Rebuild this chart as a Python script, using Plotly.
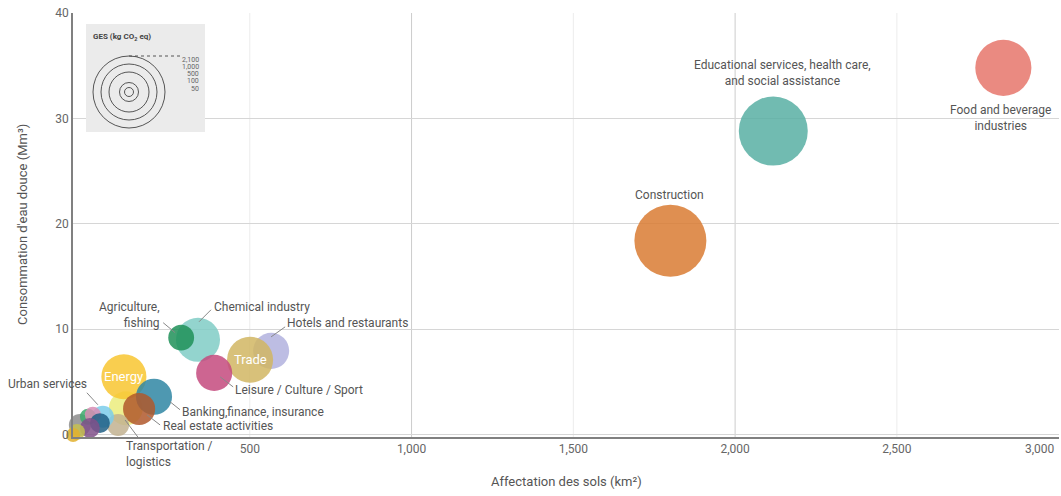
import plotly.graph_objects as go

# Données (ordre de tracé : les premiers passent dessous)
sectors = [
    "Construction",
    "Educational services, health care, and social assistance",
    "Food and beverage industries",
    "Hotels and restaurants",
    "Trade",
    "Chemical industry",
    "Agriculture, fishing",
    "Leisure / Culture / Sport",
    "Autre secteur A",
    "Energy",
    "Banking,finance, insurance",
    "Real estate activities",
    "Transportation / logistics",
    "Urban services",
    "Autre secteur B",
    "Autre secteur C",
    "Autre secteur D",
    "Autre secteur E",
    "Autre secteur F",
    "Autre secteur G",
    "Autre secteur H",
    "Autre secteur I",
]
land_use = [1800, 2118, 2829, 566, 501, 340, 288, 390, 117, 111, 204, 158,
            93, 46, -25, 0, 15, 37, 6, -34, -46, -31]          # km²
water = [18.4, 28.8, 34.8, 7.95, 7.1, 9.0, 9.2, 5.86, 2.5, 5.5, 3.6, 2.44,
         0.92, 1.7, 0.92, 1.7, 1.9, 1.1, 0.64, 0.26, -0.03, -0.5]  # Mm³
ghg = [1710, 1570, 1040, 430, 700, 640, 220, 430, 380, 670, 430, 340,
       160, 160, 160, 85, 85, 130, 130, 85, 65, 20]         # kg CO2 eq

colors = ["#D97B33", "#58AFA3", "#E6766B", "#B2B2DE", "#D1B663", "#80CCC6",
          "#1E9158", "#C44A7E", "#EBEC7C", "#F8C530", "#2F86A3", "#B0582B",
          "#C2B291", "#7BCDEA", "#8D8D8D", "#3CAA6C", "#D88DB5", "#205F85",
          "#80508A", "#C5C050", "#E2B02E", "#E05555"]

x_ticks = [500, 1000, 1500, 2000, 2500]
x_tick_text = ["500", "1,000", "1,500", "2,000", "2,500"]
x_last_tick = 3000

legend_values = ["2,100", "1,000", "500", "100", "50"]
legend_radius = [36, 28, 20, 9.5, 4.5]

W, H = 1061, 496
L, R, T, B = 73, 2, 13, 59
FONT = "Roboto"
TXT = "#555555"


def pxx(px):
    return (px - L) / (W - L - R)


def pxy(py):
    return (H - B - py) / (H - T - B)


fig = go.Figure()

fig.add_trace(go.Scatter(
    x=land_use, y=water, mode="markers",
    text=sectors, customdata=ghg,
    hovertemplate="%{text}<br>%{x:,} km²<br>%{y} Mm³<br>%{customdata:,} kg CO2 eq<extra></extra>",
    marker=dict(size=ghg, sizemode="area", sizeref=0.66, color=colors,
                opacity=0.85, line=dict(width=0)),
    cliponaxis=False,
))

# étiquettes : index -> (texte, dx, dy, ancrage, trait de rappel)
labels = {
    0: ("Construction", -1, 46, "center", None),
    1: ("Educational services, health care,<br>and social assistance", 9, 58, "center", None),
    2: ("Food and beverage<br>industries", -3, -50, "center", None),
    3: ("Hotels and restaurants", 14, 28, "left", (14, 24, 0, 14)),
    4: ("Trade", 0, 0, "center", None),
    5: ("Chemical industry", 14, 33, "left", (1, 18, 13, 30)),
    6: ("Agriculture,<br>fishing", -19, 23, "right", (-18, 15, -6, 5)),
    7: ("Leisure / Culture / Sport", 19, -17, "left", (6, -4, 19, -14)),
    9: ("Energy", 0, 0, "center", None),
    10: ("Banking,finance, insurance", 26, -15, "left", (16, -5, 26, -13)),
    11: ("Real estate activities", 22, -17, "left", (8, -6, 21, -16)),
    12: ("Transportation /<br>logistics", 6, -29, "left", (7, 5, 22, -15)),
    13: ("Urban services", -14, 33, "right", (-5, 12, -16, 24)),
}
inside = {4, 9}

shapes = []
annotations = []

# grille verticale (majeure tous les 1000, mineure à 500)
for v in [500, 1500, 2500]:
    shapes.append(dict(type="line", xref="x", yref="paper", x0=v, x1=v, y0=0, y1=1,
                       layer="below", line=dict(color="#ececec", width=1)))
for v in [1000, 2000]:
    shapes.append(dict(type="line", xref="x", yref="paper", x0=v, x1=v, y0=0, y1=1,
                       layer="below", line=dict(color="#cccccc", width=1)))

for i, (txt, dx, dy, anchor, leader) in labels.items():
    annotations.append(dict(x=land_use[i], y=water[i], xref="x", yref="y",
                            text=txt, showarrow=False, xshift=dx, yshift=dy,
                            xanchor=anchor, yanchor="middle", align=anchor,
                            font=dict(family=FONT, size=13 if i in inside else 12,
                                      color="white" if i in inside else TXT)))
    if leader:
        shapes.append(dict(type="line", xref="x", yref="y",
                           xsizemode="pixel", ysizemode="pixel",
                           xanchor=land_use[i], yanchor=water[i],
                           x0=leader[0], y0=leader[1], x1=leader[2], y1=leader[3],
                           line=dict(color="#888888", width=1)))

# dernier libellé de l'axe x, calé à droite pour rester dans la page
annotations.append(dict(x=x_last_tick, xref="x", y=pxy(449), yref="paper",
                        text=f"{x_last_tick:,}", showarrow=False, xanchor="right",
                        yanchor="middle", xshift=-2,
                        font=dict(family=FONT, size=12, color="#666666")))

# légende des tailles
shapes.append(dict(type="rect", xref="paper", yref="paper",
                   x0=pxx(86), x1=pxx(205), y0=pxy(132), y1=pxy(24),
                   fillcolor="#ebebeb", line=dict(width=0), layer="above"))
cx, cy = 129, 92
for r in legend_radius:
    shapes.append(dict(type="circle", xref="paper", yref="paper",
                       xsizemode="pixel", ysizemode="pixel",
                       xanchor=pxx(cx), yanchor=pxy(cy),
                       x0=-r, x1=r, y0=-r, y1=r,
                       line=dict(color="#444444", width=0.9), layer="above"))
shapes.append(dict(type="line", xref="paper", yref="paper",
                   x0=pxx(cx), x1=pxx(180), y0=pxy(cy - legend_radius[0]), y1=pxy(cy - legend_radius[0]),
                   line=dict(color="#444444", width=0.9, dash="dot"), layer="above"))
annotations.append(dict(xref="paper", yref="paper", x=pxx(91), y=pxy(37),
                        text="<b>GES (kg CO<sub>2</sub> eq)</b>", showarrow=False,
                        xanchor="left", yanchor="middle",
                        font=dict(family=FONT, size=8, color="#444444")))
for lab, ly in zip(legend_values, [60, 67, 74, 81, 89]):
    annotations.append(dict(xref="paper", yref="paper", x=pxx(201), y=pxy(ly),
                            text=lab, showarrow=False, xanchor="right", yanchor="middle",
                            font=dict(family=FONT, size=7, color="#666666")))

# titres des axes
annotations.append(dict(xref="paper", yref="paper", x=pxx(566), y=pxy(481),
                        text="Affectation des sols (km²)", showarrow=False,
                        xanchor="center", yanchor="middle",
                        font=dict(family=FONT, size=13, color=TXT)))
annotations.append(dict(xref="paper", yref="paper", x=pxx(22), y=pxy(225),
                        text="Consommation d'eau douce (Mm³)", showarrow=False,
                        textangle=-90, xanchor="center", yanchor="middle",
                        font=dict(family=FONT, size=13, color=TXT)))

fig.update_layout(
    width=W, height=H,
    margin=dict(l=L, r=R, t=T, b=B, autoexpand=False),
    plot_bgcolor="white", paper_bgcolor="white",
    showlegend=False,
    font=dict(family=FONT, size=12, color=TXT),
    shapes=shapes, annotations=annotations,
    xaxis=dict(range=[-46.3, 3001], tickvals=x_ticks, ticktext=x_tick_text,
               showgrid=False, zeroline=False, showline=True, automargin=False,
               linecolor="#808080", linewidth=1.5, ticks="",
               tickfont=dict(family=FONT, size=12, color="#666666")),
    yaxis=dict(range=[-0.22, 40], tickvals=[0, 10, 20, 30, 40],
               showgrid=True, gridcolor="#d6d6d6", zeroline=False, showline=True,
               automargin=False,
               linecolor="#808080", linewidth=1.5, ticks="",
               tickfont=dict(family=FONT, size=12, color="#666666")),
)

# la page par défaut ajoute une marge de 8 px autour du graphique
fig.write_html("out.html", config={"displayModeBar": False},
               post_script="document.body.style.margin='0';")
